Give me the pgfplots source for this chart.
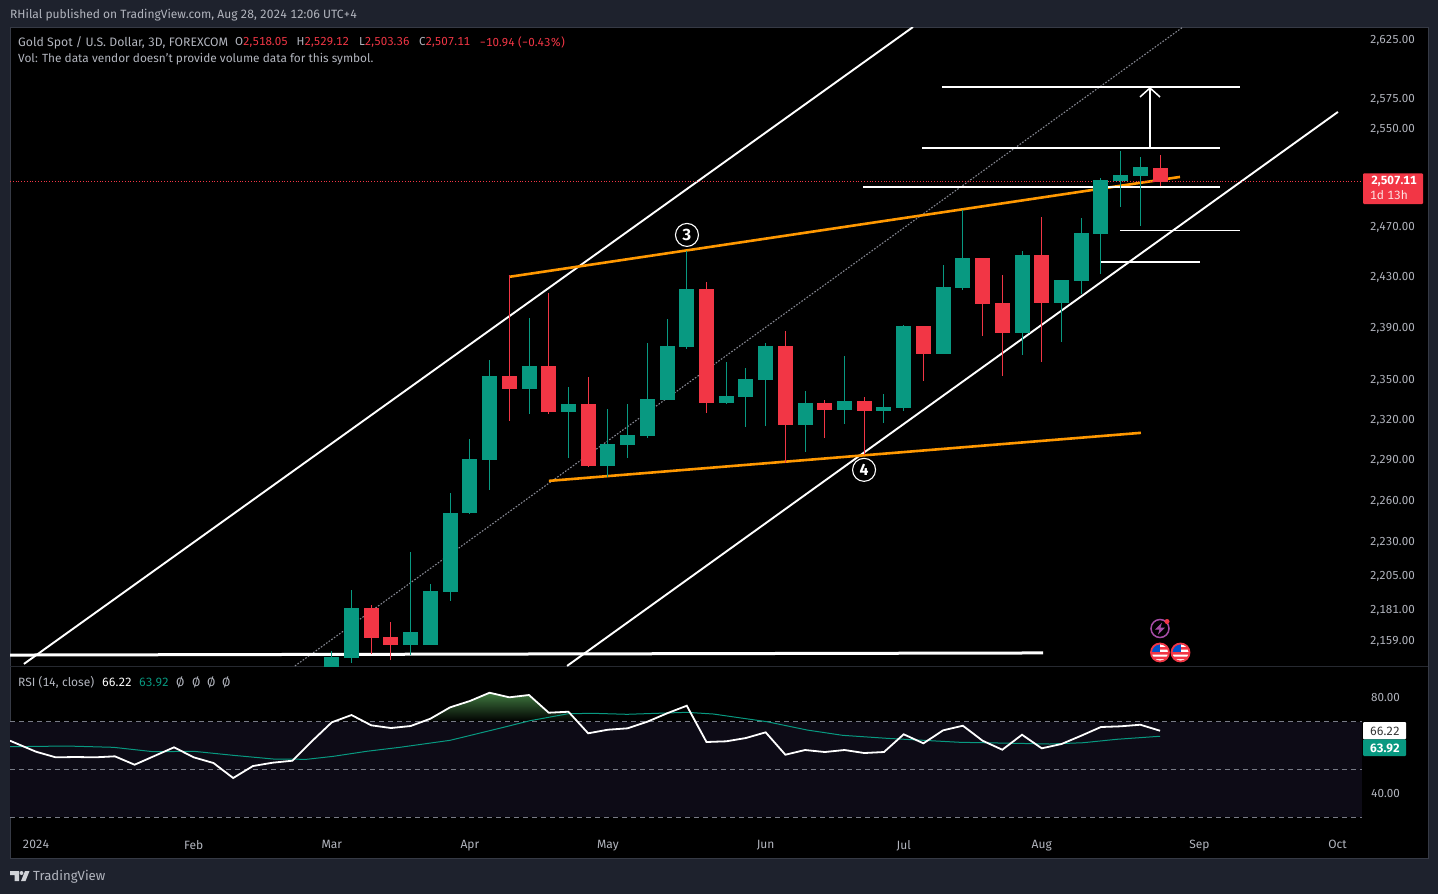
\documentclass[border=0pt]{standalone}
\usepackage{fontspec}
\usepackage{pgfplots}
\usepackage{pgfplotstable}
\pgfplotsset{compat=1.18}
\usetikzlibrary{arrows.meta}
\setmainfont[Numbers={Lining,Monospaced}]{Fira Sans}
\definecolor{pagebg}{HTML}{1E222D}
\definecolor{framec}{HTML}{363A45}
\definecolor{txt}{HTML}{B2B5BE}
\definecolor{up}{HTML}{089981}
\definecolor{down}{HTML}{F23645}
\definecolor{orng}{HTML}{FF9800}
\definecolor{band}{HTML}{0D0B16}
\definecolor{dashc}{HTML}{787B86}
\newcommand{\fs}{\fontsize{12}{14}\selectfont}
% k = 3-day bar index (0 = first bar of 2024); prices in USD
\pgfplotstableread{
k low bot top high
15 2132.5 2136.0 2148.5 2152.5
16 2144.1 2147.6 2182.9 2195.7
19 2149.7 2156.8 2165.9 2222.9
20 2156.8 2156.8 2195.0 2199.9
21 2187.8 2194.2 2251.2 2265.9
22 2250.5 2251.2 2291.1 2306.1
23 2268.1 2290.4 2353.7 2366.0
25 2324.9 2343.8 2361.4 2398.5
27 2291.9 2326.4 2332.4 2345.4
29 2277.8 2286.0 2302.3 2328.6
30 2291.9 2301.6 2309.0 2332.4
31 2306.8 2308.3 2336.2 2379.0
32 2335.4 2335.4 2376.7 2397.7
33 2374.4 2375.9 2421.2 2451.2
35 2332.4 2333.1 2338.5 2364.4
36 2315.1 2337.7 2351.4 2359.8
37 2315.9 2350.6 2376.7 2379.0
39 2296.3 2316.6 2333.1 2342.2
41 2317.4 2327.9 2334.6 2369.0
43 2318.1 2327.1 2330.1 2340.0
44 2327.1 2329.4 2392.3 2393.0
46 2370.5 2370.5 2422.8 2440.2
47 2420.4 2422.0 2445.7 2484.1
50 2369.8 2386.8 2448.0 2451.2
52 2379.8 2410.2 2428.2 2428.2
53 2417.2 2427.4 2465.6 2477.7
54 2433.0 2464.8 2508.4 2510.0
55 2486.5 2507.6 2512.5 2532.2
56 2471.3 2511.7 2519.0 2527.2
}\upbars
\pgfplotstableread{
k low bot top high
17 2150.4 2161.7 2182.9 2185.0
18 2146.2 2156.8 2162.4 2173.0
24 2319.6 2343.8 2353.7 2432.2
26 2324.9 2326.4 2361.4 2418.0
28 2285.2 2286.0 2332.4 2353.0
34 2325.6 2333.1 2421.2 2426.7
38 2288.2 2316.6 2376.7 2388.4
40 2306.8 2327.9 2333.1 2335.4
42 2294.1 2327.1 2334.6 2337.7
45 2349.9 2370.5 2392.3 2392.3
48 2384.5 2409.4 2445.7 2445.7
49 2353.7 2386.8 2410.2 2432.2
51 2364.4 2410.2 2448.0 2478.5
57 2503.36 2507.11 2518.05 2529.12
}\downbars
\newcommand{\drawbars}[2]{%
  \pgfplotstablegetrowsof{#1}%
  \pgfmathtruncatemacro\lastrow{\pgfplotsretval-1}%
  \pgfplotsforeachungrouped \i in {0,...,\lastrow}{%
    \pgfplotstablegetelem{\i}{k}\of{#1}\let\vk\pgfplotsretval
    \pgfplotstablegetelem{\i}{low}\of{#1}\let\vl\pgfplotsretval
    \pgfplotstablegetelem{\i}{bot}\of{#1}\let\vb\pgfplotsretval
    \pgfplotstablegetelem{\i}{top}\of{#1}\let\vt\pgfplotsretval
    \pgfplotstablegetelem{\i}{high}\of{#1}\let\vh\pgfplotsretval
    \edef\tmp{%
      \noexpand\addplot[#2,line width=1pt,forget plot] coordinates {(\vk,\vl)(\vk,\vh)};
      \noexpand\addplot[#2,line width=15pt,forget plot] coordinates {(\vk,\vb)(\vk,\vt)};
    }\tmp
  }%
}
\begin{document}
\begin{tikzpicture}
\begin{scope}[x=1pt,y=-1pt]
\useasboundingbox (0,0) rectangle (1438,894);
\fill[pagebg] (0,0) rectangle (1438,894);
\fill[black] (10,27) rectangle (1428,858);
\draw[framec,line width=1pt] (10,27) rectangle (1428,858);
\draw[framec!70!black,line width=1pt] (10,666.5) -- (1428,666.5);
\end{scope}

% ---------- price pane (logarithmic price scale) ----------
\begin{axis}[
  at={(10pt,-666pt)},anchor=south west,
  scale only axis,width=1352pt,height=639pt,
  xmin=-1.318,xmax=67.24,
  y coord trafo/.code={\pgfmathparse{ln(#1)}},
  ymin=2142.0,ymax=2636.25,
  axis line style={draw=none},
  tick style={draw=none},
  xtick=\empty,
  ytick={2159,2181,2205,2230,2260,2290,2320,2350,2390,2430,2470,2550,2575,2625},
  yticklabels={{2,159.00},{2,181.00},{2,205.00},{2,230.00},{2,260.00},{2,290.00},{2,320.00},{2,350.00},{2,390.00},{2,430.00},{2,470.00},{2,550.00},{2,575.00},{2,625.00}},
  ytick pos=right,
  yticklabel style={anchor=west,xshift=8pt,inner sep=0pt,text=txt,font=\fontsize{11.6}{14}\selectfont},
  minor tick num=0,
]
% channel lines
\addplot[white,line width=1.9pt] coordinates {(-0.61,2143.4)(44.47,2636.25)};
\addplot[white,line width=1.9pt] coordinates {(26.93,2142.0)(66.02,2564.5)};
\addplot[dashc!90!white,line width=1.1pt,dash pattern=on 1.6pt off 1.6pt] coordinates {(13.13,2142.0)(58.16,2636.25)};
\addplot[white,line width=3pt] coordinates {(-1.318,2149.7)(51.07,2151.1)};
% orange trend lines
\addplot[orng,line width=2.6pt] coordinates {(23.99,2430.7)(58.01,2510.9)};
\addplot[orng,line width=2.6pt] coordinates {(26.01,2274.8)(56.03,2310.6)};
% horizontal levels
\addplot[white,line width=1.9pt] coordinates {(45.94,2585.4)(61.05,2585.4)};
\addplot[white,line width=1.9pt] coordinates {(44.93,2534.6)(60.04,2534.6)};
\addplot[white,line width=1.9pt] coordinates {(41.94,2502.7)(60.04,2502.7)};
\addplot[white,line width=1.1pt] coordinates {(54.97,2467.7)(61.05,2467.7)};
\addplot[white,line width=1.9pt] coordinates {(53.96,2442.5)(59.03,2442.5)};
\addplot[white,line width=1.9pt,-{Straight Barb[length=9pt,width=20pt,line width=1.5pt]}] coordinates {(56.49,2534.6)(56.49,2585.4)};
% last price
\addplot[down,line width=0.8pt,dotted] coordinates {(-1.318,2507.11)(67.24,2507.11)};
% candles
\drawbars{\upbars}{up}
\drawbars{\downbars}{down}
% wave labels
\node[circle,draw=white,fill=black,line width=1.1pt,minimum size=23pt,inner sep=0pt,text=white,font=\fontsize{16}{16}\selectfont\bfseries] at (axis cs:33.01,2464) {3};
\node[circle,draw=white,fill=black,line width=1.1pt,minimum size=23pt,inner sep=0pt,text=white,font=\fontsize{16}{16}\selectfont\bfseries] at (axis cs:41.99,2283) {4};
\end{axis}

% ---------- RSI pane ----------
\begin{axis}[
  at={(10pt,-830pt)},anchor=south west,
  scale only axis,width=1352pt,height=163pt,
  xmin=-1.318,xmax=67.24,
  ymin=24.69,ymax=92.89,
  axis line style={draw=none},
  tick style={draw=none},
  xtick={0,8,15,22,29,37,44,51,59,66},
  xticklabels={2024,Feb,Mar,Apr,May,Jun,Jul,Aug,Sep,Oct},
  xticklabel style={text=txt,font=\fs,inner sep=0pt,yshift=-10pt},
  ytick={40,80},
  yticklabels={40.00,80.00},
  ytick pos=right,
  yticklabel style={anchor=west,xshift=9pt,inner sep=0pt,text=txt,font=\fontsize{11.6}{14}\selectfont},
]
\addplot[fill=band,draw=none,forget plot] coordinates {(-1.318,30)(67.24,30)(67.24,70)(-1.318,70)} -- cycle;
\addplot[draw=none,shade,top color=green!30!black!75,bottom color=black,forget plot] coordinates {(19.59,70)(20,71.26)(21,76.02)(22,78.66)(23,82.13)(24,80.21)(25,81.17)(26,73.77)(27,74.18)(27.46,70)} -- cycle;
\addplot[dashc,line width=0.9pt,dash pattern=on 5pt off 4pt] coordinates {(-1.318,70)(67.24,70)};
\addplot[dashc,line width=0.9pt,dash pattern=on 5pt off 4pt] coordinates {(-1.318,50)(67.24,50)};
\addplot[dashc,line width=0.9pt,dash pattern=on 5pt off 4pt] coordinates {(-1.318,30)(67.24,30)};
% RSI-based MA
\addplot[up,line width=1pt] coordinates {(-1.318,59.54)(1.56,59.83)(3.92,59.29)(5.95,57.45)(8,57.62)(10,55.94)(12.04,54.39)(13.72,54.27)(15.08,55.52)(16.77,57.62)(18.45,59.29)(21,62.22)(23.5,67.24)(25.05,70.42)(26.99,73.35)(28.25,73.51)(29.97,73.1)(33,73.93)(34.35,73.22)(37.07,70)(39.1,66.53)(40.9,64.31)(43.15,63.05)(45,62.22)(46.86,61.38)(48,61.21)(49.7,60.96)(51.4,60.67)(53.1,61.21)(54.8,62.64)(57,63.92)};
% RSI
\addplot[white,line width=1.8pt] coordinates {(-1.318,62.05)(0,57.45)(1,55.1)(2,55.23)(3,55.1)(4,55.52)(5,52.01)(6,55.65)(7,59.29)(8,55.1)(9,52.72)(10,46.44)(11,51.46)(12,52.85)(13,53.68)(14,61.92)(15,69.75)(16,72.8)(17,68.49)(18,67.36)(19,68.2)(20,71.26)(21,76.02)(22,78.66)(23,82.13)(24,80.21)(25,81.17)(26,73.77)(27,74.18)(28,65.15)(29,66.65)(30,67.24)(31,70)(32,73.51)(33,76.69)(34,61.51)(35,61.8)(36,63.18)(37,65.56)(38,56.19)(39,58.16)(40,57.32)(41,58.16)(42,56.9)(43,57.32)(44,64.73)(45,60.96)(46,66.4)(47,68.33)(48,62.05)(49,58.28)(50,64.56)(51,58.87)(52,60.67)(53,64.14)(54,67.78)(55,68.08)(56,68.74)(57,66.22)};
\end{axis}

% ---------- texts, badges, icons ----------
\begin{scope}[x=1pt,y=-1pt,every node/.style={anchor=west,inner sep=0pt,font=\fs,text=txt}]
\node at (10,15) {RHilal published on TradingView.com, Aug 28, 2024 12:06 UTC+4};
\node[font=\fontsize{12.25}{14}\selectfont] at (18,42.5) {Gold Spot / U.S. Dollar, 3D, FOREXCOM};
\node[font=\fontsize{11.6}{14}\selectfont] at (235,42.5) {O\textcolor{down}{2,518.05}};
\node[font=\fontsize{11.6}{14}\selectfont] at (296.5,42.5) {H\textcolor{down}{2,529.12}};
\node[font=\fontsize{11.6}{14}\selectfont] at (359,42.5) {L\textcolor{down}{2,503.36}};
\node[font=\fontsize{11.6}{14}\selectfont] at (419,42.5) {C\textcolor{down}{2,507.11}};
\node[text=down,font=\fontsize{11.6}{14}\selectfont] at (479.5,42.5) {−10.94 (−0.43\%)};
\node[font=\fontsize{11.85}{14}\selectfont] at (18,59.5) {Vol: The data vendor doesn't provide volume data for this symbol.};
\node at (18,682.5) {RSI (14, close)};
\node[text=white] at (102,682.5) {66.22};
\node[text=up] at (139,682.5) {63.92};
\node at (176,682.5) {Ø};
\node at (192,682.5) {Ø};
\node at (207,682.5) {Ø};
\node at (222,682.5) {Ø};
% last price badge
\fill[down,rounded corners=1pt] (1363,173.3) rectangle (1423,204);
\node[text=white,anchor=center,font=\fontsize{11.8}{14}\selectfont\bfseries] at (1394,181) {2,507.11};
\node[text=white!85!down,anchor=center,font=\fs] at (1389,195) {1d 13h};
% RSI badges
\fill[white,rounded corners=1pt] (1363,722) rectangle (1406,739.3);
\fill[up,rounded corners=1pt] (1363,739.3) rectangle (1406,756);
\node[text=black!80,anchor=center] at (1385,731) {66.22};
\node[text=white,anchor=center,font=\fs\bfseries] at (1385,748) {63.92};
% footer logo
\fill[txt!60!white] (10,871) rectangle (19,875) (14.5,875) rectangle (19,881);
\fill[txt!60!white] (21.5,873) circle (2);
\fill[txt!60!white] (21,881) -- (25,871) -- (29.5,871) -- (25.5,881) -- cycle;
\node[font=\fontsize{13.2}{15}\selectfont] at (33,877) {TradingView};
% event icons
\draw[violet!70!white,line width=1.5pt] (1160,628.5) circle (9);
\fill[violet!70!white] (1162,622.5) -- (1155,629.5) -- (1159.5,629.5) -- (1158,634.5) -- (1165,627.5) -- (1160.5,627.5) -- cycle;
\fill[down] (1167,621.5) circle (2.5);
\foreach \c in {1160,1180.5}{
  \begin{scope}
  \clip (\c,652.5) circle (8.5);
  \fill[white] (\c-9,644) rectangle (\c+9,661);
  \fill[down] (\c-9,652) rectangle (\c+9,654.5) (\c-9,656.5) rectangle (\c+9,659) (\c-9,647) rectangle (\c+9,649.5);
  \fill[blue!60!cyan!80!black] (\c-9,644) rectangle (\c,652);
  \end{scope}
  \draw[down,line width=1.8pt] (\c,652.5) circle (9);
}
\end{scope}
\end{tikzpicture}
\end{document}
